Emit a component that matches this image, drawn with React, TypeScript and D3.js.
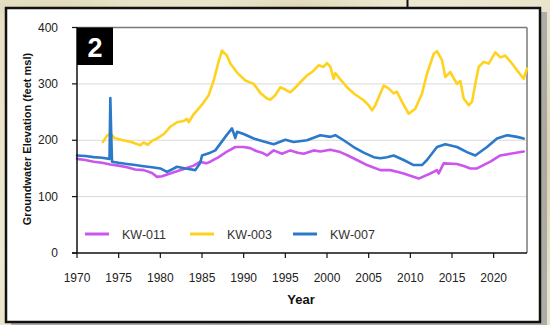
import React from "react";
import * as d3 from "d3";

// Groundwater elevation records (year, feet msl)
const kw011: [number, number][] = [
  [1970, 167], [1971, 165], [1972, 162], [1973, 160], [1974, 157], [1975, 155],
  [1976, 152], [1977, 148], [1978, 147], [1979, 142], [1979.6, 135], [1980.2, 136],
  [1981, 140], [1982, 145], [1983, 150], [1984, 155], [1984.8, 162], [1985.5, 159],
  [1986, 162], [1987, 170], [1988, 180], [1989, 188], [1990, 188], [1990.8, 186],
  [1991.5, 181], [1992.2, 178], [1992.8, 173], [1993.6, 182], [1994.6, 176],
  [1995.6, 182], [1996.5, 178], [1997.2, 176], [1998.4, 182], [1999.2, 180],
  [2000.4, 183], [2001.6, 179], [2002.5, 173], [2003.6, 165], [2004.8, 156],
  [2005.5, 152], [2006.4, 147], [2007.6, 147], [2008.4, 144], [2009.2, 141],
  [2010, 137], [2011, 132], [2012.4, 141], [2013.2, 147], [2013.4, 141], [2014, 159],
  [2015.6, 158], [2016.5, 154], [2017.2, 150], [2018, 150], [2019.6, 162],
  [2020.8, 173], [2022, 176], [2023.6, 180],
];

const kw003: [number, number][] = [
  [1973.1, 197], [1973.6, 208], [1974, 212], [1974.5, 204], [1975.5, 200],
  [1976.5, 197], [1977.6, 191], [1978, 196], [1978.5, 192], [1979, 199],
  [1979.6, 203], [1980.5, 212], [1981.2, 224], [1982, 232], [1982.8, 234],
  [1983.2, 238], [1983.4, 232], [1984, 246], [1985.1, 265], [1985.8, 280],
  [1986.4, 306], [1987, 340], [1987.4, 359], [1988, 350], [1988.4, 336],
  [1989.2, 320], [1990.2, 306], [1991.2, 300], [1992, 284], [1992.8, 274],
  [1993.2, 272], [1993.8, 280], [1994.4, 294], [1995, 290], [1995.6, 285],
  [1996.3, 295], [1997, 306], [1997.6, 315], [1998.3, 322], [1999, 333],
  [1999.6, 330], [2000, 337], [2000.4, 330], [2000.8, 309], [2001, 319],
  [2001.6, 308], [2002.4, 294], [2003.3, 282], [2004.4, 271], [2005, 262],
  [2005.4, 253], [2005.8, 262], [2006.4, 283], [2006.8, 297], [2007.4, 292],
  [2008, 283], [2008.4, 286], [2009, 268], [2009.8, 247], [2010.6, 256],
  [2011.4, 283], [2012, 318], [2012.8, 353], [2013.2, 358], [2013.8, 342],
  [2014.2, 312], [2014.8, 321], [2015.2, 310], [2015.6, 300], [2016, 305],
  [2016.4, 274], [2017, 262], [2017.4, 268], [2017.8, 300], [2018.2, 330],
  [2018.8, 339], [2019.4, 336], [2020.2, 356], [2020.8, 347], [2021.4, 350],
  [2022.2, 336], [2022.8, 324], [2023.6, 309], [2024, 327],
];

const kw007: [number, number][] = [
  [1970, 173], [1971, 172], [1972, 170], [1973, 169], [1973.9, 167], [1974.0, 275],
  [1974.1, 215], [1974.2, 162], [1975, 160], [1976, 158], [1977, 156], [1978, 154],
  [1979, 152], [1980, 150], [1980.8, 144], [1981.5, 149], [1982, 153], [1983, 150],
  [1983.4, 149], [1984.2, 147], [1984.8, 160], [1985, 173], [1986, 178],
  [1986.6, 182], [1987.2, 194], [1988, 210], [1988.6, 221], [1989, 204],
  [1989.2, 215], [1990, 211], [1991.2, 203], [1992.4, 198], [1993.6, 193],
  [1995, 201], [1996, 197], [1997.6, 200], [1999.2, 209], [2000.4, 206],
  [2001, 209], [2002, 200], [2003.2, 188], [2004.4, 178], [2005.6, 170],
  [2006.4, 168], [2007.2, 170], [2008, 173], [2009.2, 165], [2010.4, 156],
  [2011.4, 156], [2012, 165], [2013.2, 188], [2014.2, 193], [2015.6, 188],
  [2016.8, 179], [2017.8, 173], [2019.2, 188], [2020.4, 203], [2021.6, 209],
  [2022.8, 206], [2023.6, 203],
];

const seriesNames = ["KW-011", "KW-003", "KW-007"];
const seriesColors = ["#CC55EE", "#FFD21F", "#2A7AC9"];
const xTicks = [1970, 1975, 1980, 1985, 1990, 1995, 2000, 2005, 2010, 2015, 2020];
const yTicks = [0, 100, 200, 300, 400];

const W = 550;
const H = 325;
const plot = { left: 77, right: 527, top: 27.5, bottom: 253 };
const font = "'Liberation Sans', Arial, sans-serif";

export default function App() {
  const x = d3.scaleLinear().domain([1970, 2024]).range([plot.left, plot.right]);
  const y = d3.scaleLinear().domain([0, 400]).range([plot.bottom, plot.top]);
  const line = d3
    .line<[number, number]>()
    .x((d) => x(d[0]))
    .y((d) => y(d[1]));

  const series = [kw011, kw003, kw007];
  // draw order: yellow behind, then purple, then blue
  const order = [1, 0, 2];

  const legendX = [85, 190, 293];

  return (
    <svg
      width={W}
      height={H}
      style={{ position: "absolute", left: 0, top: 0, display: "block" }}
      fontFamily={font}
    >
      <defs>
        <linearGradient id="parch" x1="0" y1="0" x2="1" y2="1">
          <stop offset="0%" stopColor="#E6E0C4" />
          <stop offset="40%" stopColor="#EDE8D2" />
          <stop offset="70%" stopColor="#E3DCC0" />
          <stop offset="100%" stopColor="#EAE4CC" />
        </linearGradient>
        <radialGradient id="blob" cx="0.5" cy="0.5" r="0.5">
          <stop offset="0%" stopColor="#D8CFA8" stopOpacity="0.6" />
          <stop offset="100%" stopColor="#D8CFA8" stopOpacity="0" />
        </radialGradient>
      </defs>
      <rect x={0} y={0} width={W} height={H} fill="url(#parch)" />
      <ellipse cx={60} cy={10} rx={80} ry={14} fill="url(#blob)" />
      <ellipse cx={300} cy={5} rx={90} ry={10} fill="url(#blob)" />
      <ellipse cx={548} cy={160} rx={8} ry={120} fill="url(#blob)" />

      {/* connector above panel */}
      <line x1={407.5} y1={0} x2={407.5} y2={8} stroke="#111" strokeWidth={2} />

      {/* panel shadow and panel */}
      <rect x={11} y={12} width={536} height={313} fill="#9A9A9A" opacity={0.75} />
      <rect x={6} y={8} width={534} height={314} fill="#FFFFFF" stroke="#111" strokeWidth={2.5} />

      {/* gridlines */}
      {yTicks
        .filter((t) => t > 0 && t < 400)
        .map((t) => (
          <line
            key={"g" + t}
            x1={plot.left}
            x2={plot.right}
            y1={y(t)}
            y2={y(t)}
            stroke="#D9D9D9"
            strokeWidth={1}
          />
        ))}

      {/* plot frame (top and right) */}
      <line x1={plot.left} x2={plot.right} y1={plot.top} y2={plot.top} stroke="#7A7A7A" strokeWidth={1.5} />
      <line x1={plot.right} x2={plot.right} y1={plot.top} y2={plot.bottom} stroke="#7A7A7A" strokeWidth={1.5} />

      {/* series */}
      {order.map((i) => (
        <path
          key={seriesNames[i]}
          d={line(series[i]) || ""}
          fill="none"
          stroke={seriesColors[i]}
          strokeWidth={2.6}
          strokeLinejoin="round"
          strokeLinecap="round"
        />
      ))}

      {/* axes */}
      <line x1={plot.left} x2={plot.left} y1={plot.top} y2={plot.bottom} stroke="#111" strokeWidth={1.5} />
      <line x1={plot.left - 5} x2={plot.right} y1={plot.bottom} y2={plot.bottom} stroke="#111" strokeWidth={1.5} />
      {yTicks.map((t) => (
        <g key={"y" + t}>
          <line x1={plot.left - 5} x2={plot.left} y1={y(t)} y2={y(t)} stroke="#111" strokeWidth={1.2} />
          <text x={58} y={y(t) + 4} textAnchor="end" fontSize={12} fill="#222">
            {t}
          </text>
        </g>
      ))}
      {xTicks.map((t) => (
        <g key={"x" + t}>
          <line x1={x(t)} x2={x(t)} y1={plot.bottom} y2={plot.bottom + 5} stroke="#111" strokeWidth={1.2} />
          <text x={x(t)} y={plot.bottom + 29} textAnchor="middle" fontSize={12} fill="#222">
            {t}
          </text>
        </g>
      ))}

      {/* axis titles */}
      <text x={301} y={304} textAnchor="middle" fontSize={13} fontWeight="bold" fill="#111">
        Year
      </text>
      <text
        transform={`translate(31, ${139}) rotate(-90)`}
        textAnchor="middle"
        fontSize={11}
        fontWeight="bold"
        fill="#111"
      >
        Groundwater Elevation (feet msl)
      </text>

      {/* well label */}
      <rect x={plot.left} y={plot.top} width={36} height={37.5} fill="#000" />
      <text x={plot.left + 18} y={plot.top + 29} textAnchor="middle" fontSize={27} fontWeight="bold" fill="#FFF">
        2
      </text>

      {/* legend */}
      {seriesNames.map((n, i) => (
        <g key={"l" + n}>
          <line
            x1={legendX[i]}
            x2={legendX[i] + 24}
            y1={234}
            y2={234}
            stroke={seriesColors[i]}
            strokeWidth={3}
          />
          <text x={legendX[i] + 37} y={238.5} fontSize={12.5} fill="#333">
            {n}
          </text>
        </g>
      ))}
    </svg>
  );
}
